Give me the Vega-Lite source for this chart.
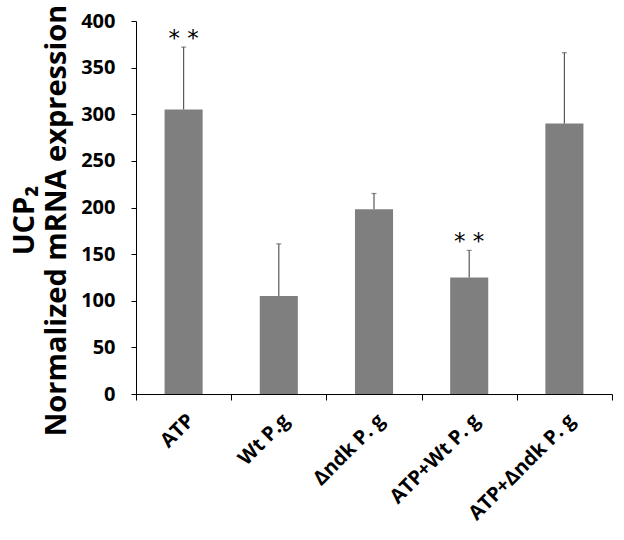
{
  "$schema": "https://vega.github.io/schema/vega-lite/v6.json",
  "width": 476,
  "height": 373,
  "autosize": {"type": "none"},
  "padding": {"left": 136, "top": 21, "right": 12, "bottom": 146},
  "background": "white",
  "config": {"view": {"stroke": null}, "font": "Open Sans"},
  "data": {
    "values": [
      {"group": "ATP", "value": 305, "upper": 372, "sig": "* *"},
      {"group": "Wt P.g", "value": 105, "upper": 161, "sig": ""},
      {"group": "Δndk P. g", "value": 198, "upper": 215, "sig": ""},
      {"group": "ATP+Wt P. g", "value": 125, "upper": 154, "sig": "* *"},
      {"group": "ATP+Δndk P. g", "value": 290, "upper": 366, "sig": ""}
    ]
  },
  "encoding": {
    "x": {
      "field": "group",
      "type": "nominal",
      "sort": null,
      "scale": {"paddingInner": 0, "paddingOuter": 0},
      "axis": {
        "title": null,
        "labelAngle": -45,
        "labelFont": "Open Sans",
        "labelFontWeight": "bold",
        "labelFontSize": 20,
        "labelColor": "#000000",
        "labelPadding": 10,
        "tickBand": "extent",
        "domainColor": "#000000",
        "tickColor": "#000000",
        "tickSize": 6,
        "labelLimit": 300
      }
    }
  },
  "layer": [
    {
      "mark": {"type": "bar", "color": "#7f7f7f", "width": {"band": 0.4}},
      "encoding": {
        "y": {
          "field": "value",
          "type": "quantitative",
          "scale": {"domain": [0, 400], "nice": false},
          "axis": {
            "values": [0, 50, 100, 150, 200, 250, 300, 350, 400],
            "grid": false,
            "title": ["UCP₂", "Normalized mRNA expression"],
            "titleFont": "Open Sans",
            "titleFontSize": 29,
            "titleFontWeight": "bold",
            "titleColor": "#000000",
            "titlePadding": 9,
            "titleLineHeight": 32,
            "titleY": 199,
            "labelFont": "Open Sans",
            "labelFontWeight": "bold",
            "labelFontSize": 20,
            "labelColor": "#000000",
            "labelPadding": 16,
            "domainColor": "#000000",
            "tickColor": "#000000",
            "tickSize": 5
          }
        }
      }
    },
    {
      "mark": {"type": "rule", "color": "#595959", "strokeWidth": 1.2},
      "encoding": {
        "y": {"field": "value", "type": "quantitative"},
        "y2": {"field": "upper"}
      }
    },
    {
      "mark": {"type": "tick", "color": "#595959", "size": 5, "thickness": 1.2},
      "encoding": {
        "y": {"field": "upper", "type": "quantitative"}
      }
    },
    {
      "mark": {"type": "text", "fontSize": 23, "dy": -8, "baseline": "middle", "color": "#000000", "font": "DejaVu Sans"},
      "encoding": {
        "y": {"field": "upper", "type": "quantitative"},
        "text": {"field": "sig"}
      }
    }
  ]
}
